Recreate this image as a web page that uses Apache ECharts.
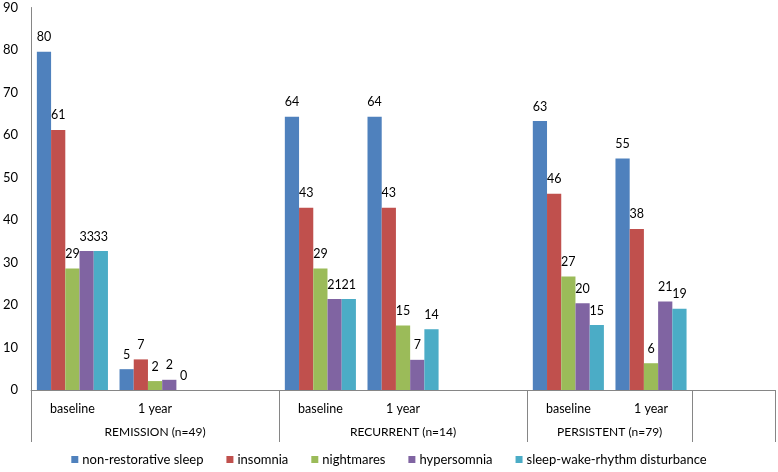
<!DOCTYPE html>
<html>
<head>
<meta charset="utf-8">
<script src="https://cdn.jsdelivr.net/npm/echarts@6/dist/echarts.min.js"></script>
<style>
html,body{margin:0;padding:0;background:#fff;}
#chart{width:778px;height:472px;}
</style>
</head>
<body>
<div id="chart"></div>
<script>
// Categories (inner level) – empty slots are spacer columns in the original chart
var periods = ['baseline', '1 year', '', 'baseline', '1 year', '', 'baseline', '1 year', ''];
// Outer level groups
var groups = ['REMISSION (n=49)', 'RECURRENT (n=14)', 'PERSISTENT (n=79)'];
var seriesNames = ['non-restorative sleep', 'insomnia', 'nightmares', 'hypersomnia', 'sleep-wake-rhythm disturbance'];
var colors = ['#4F81BD', '#C0504D', '#9BBB59', '#8064A2', '#4BACC6'];

// Percentages per category (null = empty spacer column)
var nonRestorative = [79.6, 4.9, null, 64.3, 64.3, null, 63.3, 54.5, null];
var insomnia       = [61.2, 7.2, null, 42.9, 42.9, null, 46.2, 37.9, null];
var nightmares     = [28.6, 2.1, null, 28.6, 15.2, null, 26.7, 6.3, null];
var hypersomnia    = [32.7, 2.4, null, 21.4, 7.1, null, 20.4, 20.8, null];
var sleepWake      = [32.7, 0, null, 21.4, 14.3, null, 15.3, 19.1, null];
var yTicks = [0, 10, 20, 30, 40, 50, 60, 70, 80, 90];

var allValues = [nonRestorative, insomnia, nightmares, hypersomnia, sleepWake];

// Outer axis: half-band positions; group label positions and separator positions
var groupLabelIdx = [3, 9, 14];
var separatorIdx = [0, 6, 12, 16, 18];
var outerData = [];
for (var i = 0; i <= periods.length * 2; i++) {
  var gi = groupLabelIdx.indexOf(i);
  outerData.push(gi >= 0 ? groups[gi] : ' '.repeat(i + 1));
}

var FONT = 'Lato';
var chart = echarts.init(document.getElementById('chart'), null, {renderer: 'canvas'});
chart.setOption({
  animation: false,
  textStyle: {fontFamily: FONT},
  grid: {left: 29, right: 3, top: 7.5, bottom: 82, containLabel: false},
  xAxis: [{
    type: 'category',
    data: periods,
    position: 'bottom',
    axisLine: {show: true, lineStyle: {color: '#868686', width: 1}},
    axisTick: {show: false},
    axisLabel: {interval: 0, color: '#000', fontSize: 12.5, fontFamily: FONT, margin: 12}
  }, {
    type: 'category',
    data: outerData,
    position: 'bottom',
    boundaryGap: false,
    axisLine: {show: false},
    axisTick: {
      show: true, length: 52, inside: false,
      interval: function (idx) { return separatorIdx.indexOf(idx) >= 0; },
      lineStyle: {color: '#868686', width: 1}
    },
    axisLabel: {
      interval: 0, color: '#000', fontSize: 12, fontFamily: FONT, margin: 36,
      formatter: function (v) { return v.trim(); }
    }
  }],
  yAxis: {
    type: 'value',
    min: 0, max: 90, interval: 10,
    axisLine: {show: true, lineStyle: {color: '#868686', width: 1}},
    axisTick: {show: false},
    splitLine: {show: false},
    axisLabel: {color: '#000', fontSize: 13, fontFamily: FONT, margin: 13}
  },
  legend: {
    bottom: 1,
    left: 'center',
    icon: 'rect',
    itemWidth: 7, itemHeight: 7, itemGap: 23,
    textStyle: {color: '#000', fontSize: 13, fontFamily: FONT, padding: [0, 0, 0, -1]},
    data: seriesNames
  },
  series: seriesNames.map(function (name, k) {
    return {
      name: name,
      type: 'bar',
      xAxisIndex: 0,
      barGap: '0%',
      barCategoryGap: '14%',
      itemStyle: {color: colors[k]},
      label: {
        show: true, position: 'top', distance: 8,
        color: '#000', fontSize: 12.5, fontFamily: FONT,
        formatter: function (p) { return Math.round(p.value); }
      },
      data: allValues[k].map(function (v) { return v === null ? '-' : v; })
    };
  })
});
</script>
</body>
</html>
